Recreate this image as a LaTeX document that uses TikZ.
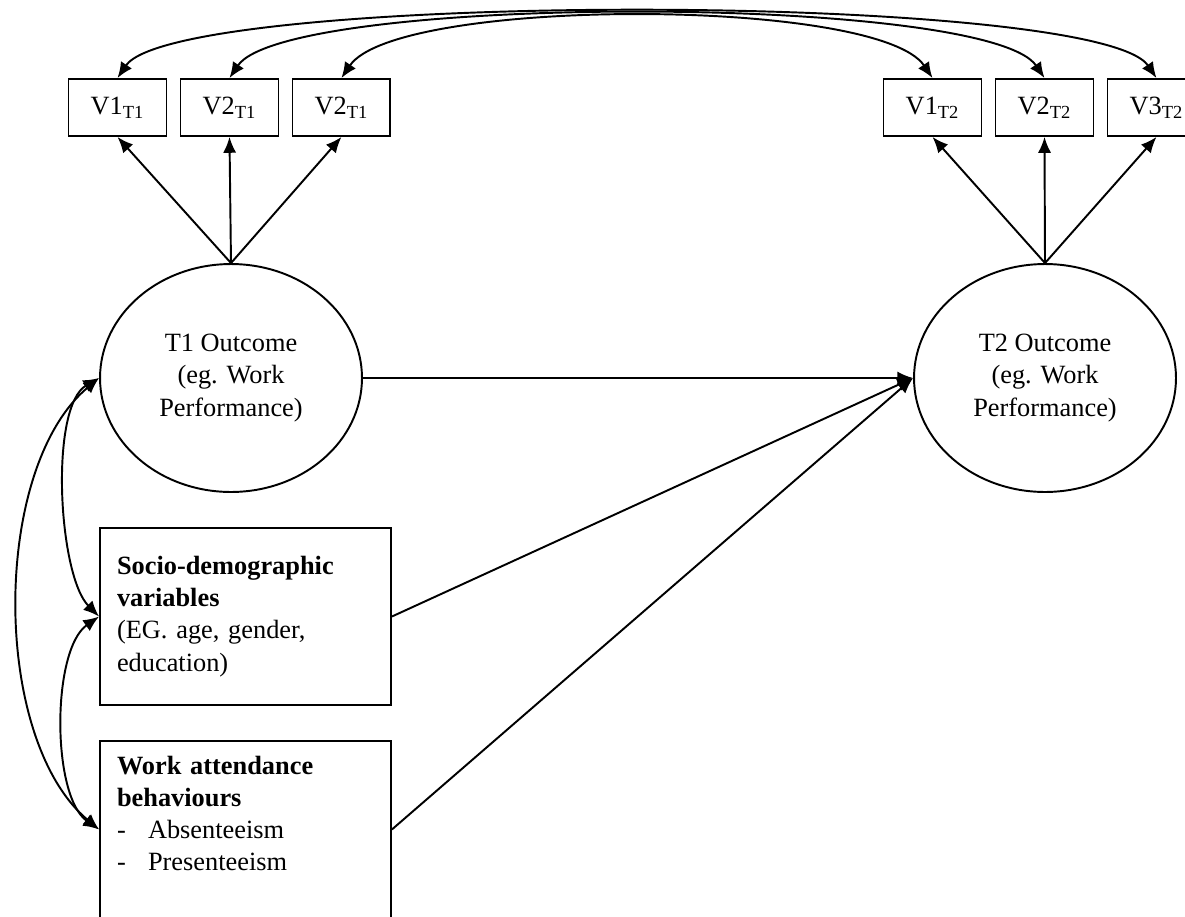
\documentclass[tikz,border=0pt]{standalone}
\usepackage{fontspec}
\setmainfont{Liberation Serif}
\usetikzlibrary{shapes.geometric, arrows.meta, positioning}
\tikzstyle{indicator} = [draw, rectangle,
    minimum width=1.96cm, minimum height=1.14cm, inner sep=0pt]
\tikzstyle{latent} = [draw, ellipse, align=center,
    minimum width=5.24cm, minimum height=4.56cm, inner sep=0pt]
\tikzstyle{factor} = [draw, rectangle, align=left, text width=5.14cm,
    inner xsep=0.34cm, minimum height=3.54cm]
\newcommand{\wave}[1]{\textsubscript{#1}}
\newcommand{\listdash}{\makebox[0.62cm][l]{-}}

\begin{document}
\begin{tikzpicture}[x=0.02cm, y=-0.02cm, node distance=2.24cm, line width=1.1pt,
    >={Latex[length=9pt,width=7.5pt]}, font=\fontsize{15}{18.3}\selectfont]
    \useasboundingbox (0,0) rectangle (1185,916);
    % latent outcomes
    \node [latent] (t1) at (231,378) {T1 Outcome\\(eg. Work\\Performance)};
    \node [latent] (t2) at (1045,378) {T2 Outcome\\(eg. Work\\Performance)};
    % indicators
    \node [indicator] (v1t1) at (117.5,107.5) {V1\wave{T1}};
    \node [indicator, right of=v1t1] (v2t1) {V2\wave{T1}};
    \node [indicator, right of=v2t1] (v3t1) {V2\wave{T1}};
    \node [indicator] (v1t2) at (932.5,107.5) {V1\wave{T2}};
    \node [indicator, right of=v1t2] (v2t2) {V2\wave{T2}};
    \node [indicator, right of=v2t2] (v3t2) {V3\wave{T2}};
    % predictors
    \node [factor] (socio) at (245.5,616.5) {\textbf{Socio-demographic}\\\textbf{variables}\\(EG. age, gender,\\education)};
    \node [factor, below of=socio, node distance=4.26cm] (work) {\textbf{Work attendance}\\\textbf{behaviours}\\\listdash Absenteeism\\\listdash Presenteeism\\~};

    \draw [->] (t1.north) -- (v1t1.south);
    \draw [->] (t1.north) -- (v2t1.south);
    \draw [->] (t1.north) -- (v3t1.south);
    \draw [->] (t2.north) -- (v1t2.south);
    \draw [->] (t2.north) -- (v2t2.south);
    \draw [->] (t2.north) -- (v3t2.south);

    \draw [<->] (v1t1.north) to [out=56, in=124, distance=2.1cm] (v3t2.north);
    \draw [<->] (v2t1.north) to [out=56, in=124, distance=2.04cm] (v2t2.north);
    \draw [<->] (v3t1.north) to [out=56, in=124, distance=1.96cm] (v1t2.north);

    \draw [->] (t1.east) -- (t2.west);
    \draw [->] (socio.east) -- (t2.west);
    \draw [->] (work.east) -- (t2.west);

    \draw [<->] (t1.west) to [out=210, in=135, looseness=0.62] (socio.west);
    \draw [<->] (t1.west) to [out=220, in=140, looseness=0.8] (work.west);
    \draw [<->] (socio.west) to [out=215, in=145, looseness=0.7] (work.west);
\end{tikzpicture}
\end{document}
